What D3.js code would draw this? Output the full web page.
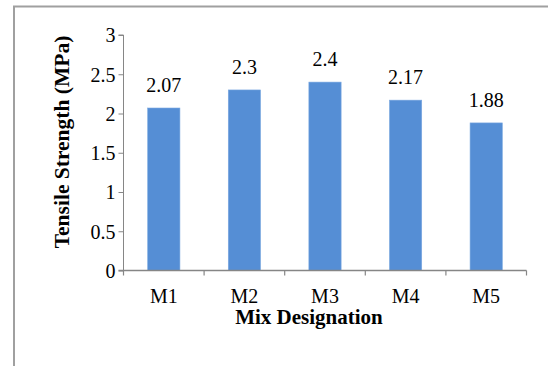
<!DOCTYPE html>
<html>
<head>
<meta charset="utf-8">
<script src="https://cdn.jsdelivr.net/npm/d3@7"></script>
<style>
  html, body { margin: 0; padding: 0; background: #fff; }
  svg { display: block; }
</style>
</head>
<body>
<script>
const categories = ["M1", "M2", "M3", "M4", "M5"];
const values = [2.07, 2.3, 2.4, 2.17, 1.88];
const valueLabels = ["2.07", "2.3", "2.4", "2.17", "1.88"];
const yTicks = [0, 0.5, 1, 1.5, 2, 2.5, 3];
const xTitle = "Mix Designation";
const yTitle = "Tensile Strength (MPa)";

(function () {
const FONT = "'Liberation Serif', 'Times New Roman', Times, serif";
const W = 548, H = 366;
const svg = d3.select("body").append("svg").attr("width", W).attr("height", H);

// outer frame (partial)
svg.append("line").attr("x1", 14).attr("x2", 14).attr("y1", 6).attr("y2", H)
  .attr("stroke", "#a0a0a0").attr("stroke-width", 2);
svg.append("line").attr("x1", 13).attr("x2", W).attr("y1", 6.5).attr("y2", 6.5)
  .attr("stroke", "#a0a0a0").attr("stroke-width", 2);

const pLeft = 123.5, pRight = 526.5, pTop = 35, pBottom = 270.5;
const x = d3.scaleBand().domain(categories).range([pLeft, pRight]).paddingInner(0.6).paddingOuter(0.3);
const y = d3.scaleLinear().domain([0, 3]).range([pBottom, pTop]);

const axisColor = "#868686";

// y axis
const gy = svg.append("g").attr("transform", `translate(${pLeft},0)`)
  .call(d3.axisLeft(y).tickValues(yTicks).tickSize(5).tickPadding(3).tickFormat(d => String(d)));
gy.attr("font-family", null).attr("font-size", null);
gy.select(".domain").attr("stroke", axisColor).attr("d", `M-5,${pTop}H0V${pBottom}`);
gy.selectAll(".tick line").attr("stroke", axisColor);
gy.selectAll(".tick text").style("font-family", FONT).style("font-size", "20px").attr("fill", "#000")
  .attr("dy", "0.34em");

// bars
svg.append("g").selectAll("rect").data(values).join("rect")
  .attr("x", (d, i) => x(categories[i]))
  .attr("width", x.bandwidth())
  .attr("y", d => y(d))
  .attr("height", d => y(0) - y(d))
  .attr("fill", "#558ED5")
  .attr("stroke", "#7aa8e0").attr("stroke-width", 0.6);

// value labels
svg.append("g").selectAll("text").data(values).join("text")
  .attr("x", (d, i) => x(categories[i]) + x.bandwidth() / 2)
  .attr("y", d => y(d) - 16)
  .attr("text-anchor", "middle")
  .style("font-family", FONT).style("font-size", "20px").attr("fill", "#000")
  .text((d, i) => valueLabels[i]);

// x axis
const step = (pRight - pLeft) / categories.length;
const gx = svg.append("g").attr("transform", `translate(0,${pBottom})`);
gx.append("line").attr("x1", pLeft - 5).attr("x2", pRight).attr("y1", 0).attr("y2", 0)
  .attr("stroke", axisColor).attr("stroke-width", 1.5);
const boundaries = d3.range(categories.length + 1).map(i => pLeft + i * step);
gx.selectAll("line.tk").data(boundaries).join("line").attr("class", "tk")
  .attr("x1", d => d).attr("x2", d => d).attr("y1", 0).attr("y2", 5)
  .attr("stroke", axisColor).attr("stroke-width", 1.2);
gx.selectAll("text").data(categories).join("text")
  .attr("x", d => x(d) + x.bandwidth() / 2)
  .attr("y", 32.5)
  .attr("text-anchor", "middle")
  .style("font-family", FONT).style("font-size", "20px").attr("fill", "#000")
  .text(d => d);

// axis titles
svg.append("text").attr("x", 309).attr("y", 323.5).attr("text-anchor", "middle")
  .style("font-family", FONT).style("font-size", "21px").style("font-weight", "bold").attr("fill", "#000")
  .text(xTitle);
svg.append("text").attr("transform", "translate(69,142) rotate(-90)")
  .attr("text-anchor", "middle")
  .style("font-family", FONT).style("font-size", "21.5px").style("font-weight", "bold").attr("fill", "#000")
  .text(yTitle);
})();
</script>
</body>
</html>
